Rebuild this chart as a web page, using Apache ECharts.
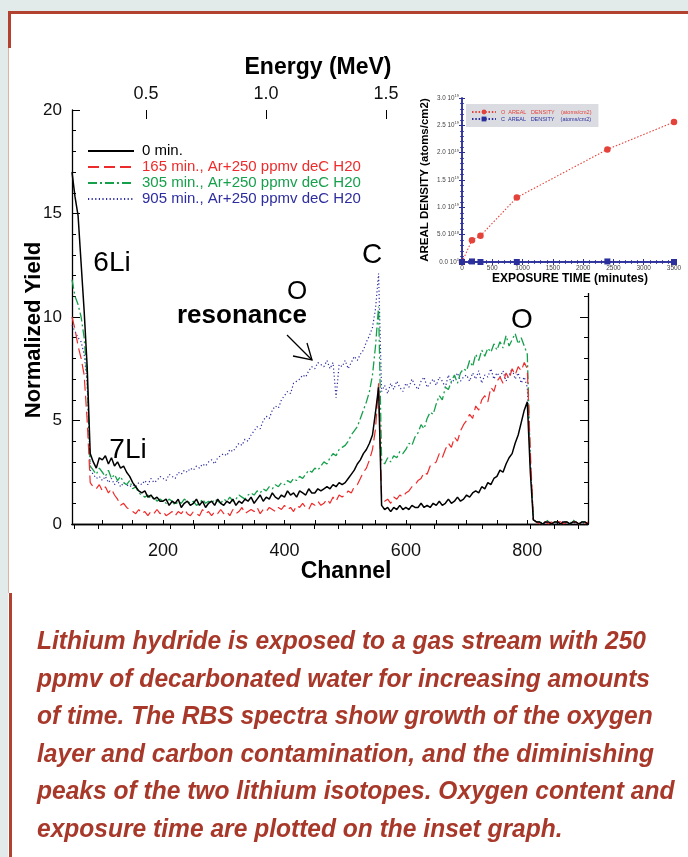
<!DOCTYPE html>
<html>
<head>
<meta charset="utf-8">
<script src="https://cdn.jsdelivr.net/npm/echarts@6.0.0/dist/echarts.min.js"></script>
<style>
  html, body { margin: 0; padding: 0; background: #e2ebe9; }
  #chart { width: 688px; height: 857px; }
</style>
</head>
<body>
<div id="chart"></div>
<script>
// RBS spectra: normalized yield per channel, one value every 5 channels from channel 50
const channelStart = 50;
const channelStep = 5;

const yield0 = [
  17.0, 15.8, 14.9, 12.6, 10.3, 7.6, 3.4, 3.0, 2.7, 3.2,
  3.1, 3.3, 2.9, 3.2, 2.8, 3.0, 2.7, 2.8, 2.5, 2.3,
  2.0, 1.8, 1.6, 1.5, 1.6, 1.3, 1.4, 1.2, 1.3, 1.1,
  1.1, 1.2, 0.9, 1.1, 1.0, 1.2, 0.8, 1.0, 1.1, 0.9,
  1.0, 1.2, 0.9, 1.1, 0.8, 1.0, 1.1, 0.9, 1.2, 1.0,
  0.9, 1.1, 1.0, 1.2, 0.9, 1.1, 1.0, 1.2, 1.1, 1.3,
  1.0, 1.2, 1.4, 1.1, 1.3, 1.2, 1.5, 1.3, 1.2, 1.4,
  1.3, 1.6, 1.4, 1.5, 1.3, 1.6, 1.5, 1.4, 1.7, 1.5,
  1.5, 1.7, 1.6, 1.7, 1.8, 1.7, 1.9, 1.8, 2.0, 1.9,
  2.0, 2.2, 2.4, 2.6, 2.9, 3.1, 3.4, 3.6, 3.9, 4.3,
  5.4, 6.6, 0.9, 0.7, 0.8, 0.6, 0.8, 0.7, 0.9, 0.7,
  0.8, 0.7, 0.9, 0.8, 0.8, 1.0, 0.8, 0.9, 0.8, 1.0,
  0.9, 1.1, 0.9, 1.0, 1.2, 1.0, 1.1, 1.3, 1.1, 1.2,
  1.4, 1.3, 1.5, 1.6, 1.5, 1.8, 1.7, 2.0, 1.9, 2.2,
  2.3, 2.6, 2.5, 2.9, 3.2, 3.4, 3.9, 4.3, 4.9, 5.5,
  5.9, 2.5, 0.2, 0.1, 0.1, 0.0, 0.1, 0.1, 0.0, 0.1,
  0.1, 0.0, 0.1, 0.1, 0.0, 0.1, 0.1, 0.0, 0.1, 0.1, 0.0
];

const yield165 = [
  10.0, 9.4, 8.6, 8.0, 7.2, 5.0, 2.0, 1.8, 1.7, 1.9,
  1.6, 1.8, 1.5, 1.7, 1.4, 1.2, 0.9, 1.0, 0.8, 0.7,
  0.6, 0.5, 0.7, 0.5, 0.6, 0.4, 0.6, 0.5, 0.7, 0.5,
  0.6, 0.4, 0.5, 0.6, 0.4, 0.6, 0.5, 0.7, 0.5, 0.4,
  0.6, 0.5, 0.4, 0.7, 0.5, 0.6, 0.4, 0.6, 0.5, 0.7,
  0.5, 0.6, 0.4, 0.7, 0.5, 0.6, 0.8, 0.5, 0.6, 0.7,
  0.6, 0.8, 0.5, 0.7, 0.6, 0.8, 0.7, 0.6, 0.8, 0.7,
  0.9, 0.7, 0.8, 0.6, 0.9, 0.8, 1.0, 0.8, 0.7, 1.0,
  0.9, 1.1, 0.9, 1.0, 1.2, 1.0, 1.3, 1.1, 1.4, 1.3,
  1.4, 1.6, 1.5, 1.8, 1.9, 2.2, 2.5, 2.7, 3.1, 3.6,
  4.6, 6.8, 1.3, 1.1, 1.2, 1.0, 1.3, 1.2, 1.4, 1.3,
  1.5, 1.6, 1.8, 1.9, 2.1, 2.2, 2.5, 2.4, 2.8, 2.9,
  3.0, 3.4, 3.2, 3.6, 3.9, 3.7, 4.2, 4.0, 4.5, 4.8,
  5.0, 5.3, 5.1, 5.7, 5.5, 6.0, 6.2, 5.9, 6.6, 6.4,
  6.9, 7.1, 6.8, 7.3, 7.0, 7.5, 7.2, 7.6, 7.4, 7.8,
  7.5, 3.5, 0.2, 0.1, 0.0, 0.1, 0.1, 0.0, 0.1, 0.0,
  0.1, 0.1, 0.0, 0.1, 0.0, 0.1, 0.1, 0.0, 0.1, 0.0, 0.1
];

const yield305 = [
  11.8, 11.0, 10.6, 10.0, 9.0, 7.0, 2.8, 2.6, 2.4, 2.7,
  2.5, 2.3, 2.6, 2.2, 2.4, 2.1, 2.3, 2.0, 1.9, 2.1,
  1.7, 1.8, 1.5, 1.4, 1.3, 1.4, 1.2, 1.3, 1.1, 1.2,
  1.1, 1.0, 1.2, 1.1, 0.9, 1.1, 1.0, 1.2, 1.1, 1.0,
  1.1, 0.9, 1.0, 1.2, 1.0, 1.1, 1.0, 1.2, 1.1, 1.0,
  1.2, 1.1, 1.3, 1.1, 1.2, 1.4, 1.3, 1.2, 1.4, 1.5,
  1.4, 1.6, 1.5, 1.7, 1.6, 1.8, 1.7, 1.9, 1.8, 2.0,
  1.9, 2.1, 2.0, 2.2, 2.1, 2.3, 2.2, 2.4, 2.6, 2.5,
  2.7, 2.6, 2.8, 3.0, 2.9, 3.2, 3.4, 3.3, 3.6, 3.7,
  3.8, 4.0, 4.3, 4.5, 4.7, 5.1, 5.5, 5.9, 6.4, 7.2,
  8.6, 10.5, 3.1, 2.9, 3.2, 3.0, 3.3, 3.2, 3.5, 3.4,
  3.6, 3.9, 3.8, 4.2, 4.4, 4.8, 4.6, 5.1, 5.4, 5.3,
  5.8, 6.2, 6.0, 6.6, 6.5, 6.9, 7.2, 6.8, 7.3, 7.5,
  7.4, 7.9, 7.6, 8.2, 7.9, 8.4, 8.1, 8.5, 8.3, 8.7,
  8.4, 8.8, 8.5, 9.1, 8.6, 8.9, 9.2, 8.7, 9.0, 8.6,
  8.2, 3.0, 0.2, 0.1, 0.1, 0.0, 0.1, 0.2, 0.0, 0.1,
  0.1, 0.0, 0.1, 0.1, 0.0, 0.2, 0.1, 0.0, 0.1, 0.1, 0.0
];

const yield905 = [
  9.6, 9.3, 9.0, 8.8, 8.2, 6.8, 2.6, 2.4, 2.2, 2.3,
  2.1, 2.3, 2.0, 2.2, 1.9, 2.1, 1.8, 2.0, 1.9, 1.8,
  1.9, 1.8, 2.0, 1.9, 2.1, 1.9, 2.2, 2.0, 2.1, 2.3,
  2.2, 2.1, 2.4, 2.3, 2.2, 2.5, 2.4, 2.6, 2.5, 2.7,
  2.6, 2.8, 2.7, 2.9, 2.8, 3.0, 3.1, 2.9, 3.2, 3.3,
  3.4, 3.3, 3.6, 3.5, 3.7, 3.9, 3.8, 4.1, 4.0, 4.3,
  4.5, 4.7, 4.6, 5.0, 5.2, 5.1, 5.5, 5.7, 5.6, 6.0,
  6.2, 6.4, 6.3, 6.8, 6.9, 7.0, 7.2, 7.1, 7.4, 7.6,
  7.5, 7.8, 7.7, 7.6, 7.9, 7.5, 7.8, 6.1, 7.7, 7.6,
  7.9, 7.5, 7.8, 8.1, 7.9, 8.2, 8.4, 8.8, 9.1, 9.5,
  10.4, 12.1, 6.4, 6.7, 6.3, 6.8, 6.5, 6.9, 6.6, 6.4,
  6.8, 6.6, 7.0, 6.7, 6.5, 6.9, 7.1, 6.6, 6.8, 7.0,
  6.7, 7.1, 6.9, 6.6, 7.2, 6.8, 7.0, 7.3, 6.9, 7.1,
  7.2, 6.9, 7.3, 7.0, 7.4, 6.8, 7.2, 7.1, 7.5, 7.0,
  7.3, 7.1, 7.4, 6.9, 7.2, 7.5, 7.0, 7.3, 6.8, 7.1,
  6.6, 3.0, 0.2, 0.1, 0.0, 0.1, 0.0, 0.1, 0.0, 0.1,
  0.0, 0.1, 0.1, 0.0, 0.1, 0.0, 0.1, 0.0, 0.1, 0.0, 0.1
];

const spectrumNames = [
  '0 min.',
  '165 min., Ar+250 ppmv deC H20',
  '305 min., Ar+250 ppmv deC H20',
  '905 min., Ar+250 ppmv deC H20'
];
const spectrumColors = ['#000000', '#ee2b2b', '#16a04c', '#2d2d9f'];

// Energy scale on the top axis (MeV), matching channel 50 .. 900
const energyRange = [0.192, 2.341];
const energyMinorTicks = [0.2, 0.3, 0.4, 0.5, 0.6, 0.7, 0.8, 0.9, 1.0, 1.1, 1.2, 1.3, 1.4, 1.5,
  1.6, 1.7, 1.8, 1.9, 2.0, 2.1, 2.2, 2.3];
const energyMajorTicks = [0.5, 1.0, 1.5, 2.0];
const energyLabels = [0.5, 1.0, 1.5];

// Inset: areal density versus exposure time
const exposureMinutes = [0, 165, 305, 905, 2400, 3500];
const oxygenDensity = [0, 0.40e19, 0.48e19, 1.18e19, 2.06e19, 2.56e19];
const carbonDensity = [0, 0.01e19, 0, 0, 0.01e19, 0];
const insetNames = ['O  AREAL   DENSITY    (atoms/cm2)', 'C  AREAL   DENSITY    (atoms/cm2)'];
const insetColors = ['#e4433b', '#2b2f9c'];

const FONT = "'Liberation Sans', Arial, sans-serif";

function toPoints(values) {
  return values.map((v, i) => [channelStart + i * channelStep, v]);
}
function pairs(xs, ys) {
  return xs.map((x, i) => [x, ys[i]]);
}
function sciLabel(v) {
  if (v === 0) return '{m|0.0 10}{e|0}';
  const e = Math.floor(Math.log10(v) + 1e-9);
  const m = v / Math.pow(10, e);
  return '{m|' + m.toFixed(1) + ' 10}{e|' + e + '}';
}
function txt(text, x, y, size, opts) {
  opts = opts || {};
  return {
    type: 'text', x: x, y: y, z: 10, zlevel: 0,
    rotation: opts.rotation || 0,
    scaleX: opts.scaleX || 1,
    style: {
      text: text, x: 0, y: 0,
      fill: opts.color || '#000',
      fontSize: size, fontFamily: opts.family || FONT,
      fontWeight: opts.weight || 'normal',
      fontStyle: opts.style || 'normal',
      align: opts.align || 'center', textAlign: opts.align || 'center',
      verticalAlign: opts.valign || 'middle', textVerticalAlign: opts.valign || 'middle',
      lineHeight: opts.lineHeight
    }
  };
}

const chart = echarts.init(document.getElementById('chart'), null, { renderer: 'canvas' });

const mainTick = { show: true, inside: true, length: 8, lineStyle: { color: '#000', width: 1 } };
const insetLine = { show: true, lineStyle: { color: '#2b2f9c', width: 1.5 } };
const insetTick = { show: true, inside: true, length: 3, lineStyle: { color: '#2b2f9c', width: 1 } };
const insetMinor = { show: true, splitNumber: 5, length: 2, lineStyle: { color: '#2b2f9c', width: 0.8 } };

const caption = [
  'Lithium hydride is exposed to a gas stream with 250',
  'ppmv of decarbonated water for increasing amounts',
  'of time. The RBS spectra show growth of the oxygen',
  'layer and carbon contamination, and the diminishing',
  'peaks of the two lithium isotopes. Oxygen content and',
  'exposure time are plotted on the inset graph.'
].join('\n');

const option = {
  animation: false,
  backgroundColor: '#e2ebe9',
  grid: [
    { left: 72, top: 110, width: 516, height: 414, show: false },
    { left: 462, top: 98, width: 212, height: 164, show: false }
  ],
  xAxis: [
    { // channel
      type: 'value', gridIndex: 0, position: 'bottom', min: 50, max: 900, interval: 50,
      axisLine: { show: true, lineStyle: { color: '#000', width: 1.3 } },
      axisTick: { show: true, inside: true, length: 4, lineStyle: { color: '#000' } },
      axisLabel: {
        margin: 18, fontSize: 18, fontFamily: FONT, color: '#111',
        formatter: v => (v % 200 === 0 ? String(v) : '')
      },
      splitLine: { show: false }
    },
    { // energy, minor ticks and labels
      type: 'value', gridIndex: 0, position: 'top', min: energyRange[0], max: energyRange[1],
      axisLine: { show: true, lineStyle: { color: '#000', width: 1.3 } },
      axisTick: { show: true, inside: true, length: 5, customValues: energyMinorTicks, lineStyle: { color: '#000' } },
      axisLabel: {
        show: true, margin: 7, fontSize: 18, fontFamily: FONT, color: '#111',
        customValues: energyLabels, formatter: v => v.toFixed(1)
      },
      splitLine: { show: false }
    },
    { // energy, major ticks
      type: 'value', gridIndex: 0, position: 'top', min: energyRange[0], max: energyRange[1],
      axisLine: { show: false },
      axisTick: { show: true, inside: true, length: 9, customValues: energyMajorTicks, lineStyle: { color: '#000' } },
      axisLabel: { show: false },
      splitLine: { show: false }
    },
    { // inset exposure time
      type: 'value', gridIndex: 1, position: 'bottom', min: 0, max: 3500, interval: 500, z: 6,
      axisLine: insetLine, axisTick: insetTick, minorTick: insetMinor,
      axisLabel: { margin: 3, fontSize: 6.5, fontFamily: FONT, color: '#444', formatter: v => String(v) },
      splitLine: { show: false }
    },
    {
      type: 'value', gridIndex: 1, position: 'top', min: 0, max: 3500, interval: 500, z: 6,
      axisLine: insetLine, axisTick: insetTick, minorTick: insetMinor,
      axisLabel: { show: false }, splitLine: { show: false }
    }
  ],
  yAxis: [
    {
      type: 'value', gridIndex: 0, position: 'left', min: 0, max: 20, interval: 5,
      axisLine: { show: true, lineStyle: { color: '#000', width: 1.3 } },
      axisTick: mainTick,
      minorTick: { show: true, splitNumber: 5, length: 4, lineStyle: { color: '#000' } },
      axisLabel: { margin: 10, fontSize: 17, fontFamily: FONT, color: '#111' },
      splitLine: { show: false }
    },
    {
      type: 'value', gridIndex: 0, position: 'right', min: 0, max: 20, interval: 5,
      axisLine: { show: true, lineStyle: { color: '#000', width: 1.3 } },
      axisTick: mainTick,
      minorTick: { show: true, splitNumber: 5, length: 4, lineStyle: { color: '#000' } },
      axisLabel: { show: false },
      splitLine: { show: false }
    },
    {
      type: 'value', gridIndex: 1, position: 'left', min: 0, max: 3e19, interval: 5e18, z: 6,
      axisLine: insetLine, axisTick: insetTick, minorTick: insetMinor,
      axisLabel: {
        margin: 3, fontFamily: FONT, color: '#444', formatter: sciLabel,
        rich: {
          m: { fontSize: 6.3, fontFamily: FONT, color: '#444' },
          e: { fontSize: 4, fontFamily: FONT, color: '#444', padding: [0, 0, 4, 0] }
        }
      },
      splitLine: { show: false }
    },
    {
      type: 'value', gridIndex: 1, position: 'right', min: 0, max: 3e19, interval: 5e18, z: 6,
      axisLine: insetLine, axisTick: insetTick, minorTick: insetMinor,
      axisLabel: { show: false }, splitLine: { show: false }
    }
  ],
  legend: [
    {
      orient: 'vertical', left: 87, top: 143.5, padding: 0, itemGap: 1,
      itemWidth: 46, itemHeight: 12, selectedMode: false,
      itemStyle: { opacity: 0 },
      textStyle: { fontSize: 15, fontFamily: FONT, padding: [0, 0, 0, 3] },
      data: spectrumNames.map((n, i) => ({ name: n, textStyle: { color: spectrumColors[i] } }))
    },
    {
      orient: 'vertical', left: 466, top: 104, padding: [5, 7, 5, 5], itemGap: 1,
      itemWidth: 24, itemHeight: 6, selectedMode: false, z: 8,
      backgroundColor: '#dadce2',
      textStyle: { fontSize: 5.5, fontFamily: FONT },
      data: insetNames.map((n, i) => ({ name: n, textStyle: { color: insetColors[i] } }))
    }
  ],
  series: [
    {
      name: spectrumNames[3], type: 'line', xAxisIndex: 0, yAxisIndex: 0, data: toPoints(yield905),
      symbol: 'none', color: spectrumColors[3], itemStyle: { opacity: 0 },
      lineStyle: { color: spectrumColors[3], width: 1.2, type: [1.2, 2.4] }
    },
    {
      name: spectrumNames[2], type: 'line', xAxisIndex: 0, yAxisIndex: 0, data: toPoints(yield305),
      symbol: 'none', color: spectrumColors[2], itemStyle: { opacity: 0 },
      lineStyle: { color: spectrumColors[2], width: 1.3, type: [9, 3, 2, 3] }
    },
    {
      name: spectrumNames[1], type: 'line', xAxisIndex: 0, yAxisIndex: 0, data: toPoints(yield165),
      symbol: 'none', color: spectrumColors[1], itemStyle: { opacity: 0 },
      lineStyle: { color: spectrumColors[1], width: 1.2, type: [11, 5] }
    },
    {
      name: spectrumNames[0], type: 'line', xAxisIndex: 0, yAxisIndex: 0, data: toPoints(yield0),
      symbol: 'none', color: spectrumColors[0], itemStyle: { opacity: 0 },
      lineStyle: { color: spectrumColors[0], width: 1.5 }
    },
    {
      name: insetNames[0], type: 'line', xAxisIndex: 3, yAxisIndex: 2, z: 7,
      data: pairs(exposureMinutes, oxygenDensity),
      symbol: 'circle', symbolSize: 6.5, showSymbol: true, color: insetColors[0],
      itemStyle: { color: insetColors[0] },
      lineStyle: { color: insetColors[0], width: 1.1, type: [1.5, 1.8] }
    },
    {
      name: insetNames[1], type: 'line', xAxisIndex: 3, yAxisIndex: 2, z: 7,
      data: pairs(exposureMinutes, carbonDensity),
      symbol: 'rect', symbolSize: 6, showSymbol: true, color: insetColors[1],
      itemStyle: { color: insetColors[1] },
      lineStyle: { color: insetColors[1], width: 1.1, type: [1.5, 1.8] }
    }
  ],
  graphic: {
    elements: [
      // page panel and red frame
      { type: 'rect', z: -2, shape: { x: 8, y: 12, width: 680, height: 845 }, style: { fill: '#ffffff' } },
      { type: 'rect', z: -1, shape: { x: 8, y: 11, width: 680, height: 3 }, style: { fill: '#b3412f' } },
      { type: 'rect', z: -1, shape: { x: 8, y: 11, width: 3, height: 37 }, style: { fill: '#b3412f' } },
      { type: 'rect', z: -1, shape: { x: 8, y: 48, width: 1, height: 545 }, style: { fill: '#dcb2aa' } },
      { type: 'rect', z: -1, shape: { x: 9, y: 593, width: 3, height: 264 }, style: { fill: '#b3412f' } },
      // white backdrop of the inset graph
      { type: 'rect', z: 5, shape: { x: 411, y: 80, width: 277, height: 213 }, style: { fill: '#ffffff' } },
      // axis titles
      txt('Energy (MeV)', 318, 68, 23, { weight: 'bold' }),
      txt('Channel', 346, 572, 23, { weight: 'bold' }),
      txt('Normalized Yield', 34, 330, 22, { weight: 'bold', rotation: Math.PI / 2 }),
      txt('AREAL DENSITY (atoms/cm2)', 425, 180, 11.5, { weight: 'bold', rotation: Math.PI / 2 }),
      txt('EXPOSURE TIME (minutes)', 570, 279, 12, { weight: 'bold' }),
      // peak annotations
      txt('6Li', 112, 263, 28),
      txt('7Li', 128, 450, 28),
      txt('C', 372, 255, 28),
      txt('O', 297, 292, 26),
      txt('resonance', 242, 316, 26, { weight: 'bold' }),
      txt('O', 522, 320, 28),
      {
        type: 'polyline', z: 10,
        shape: { points: [[287, 335], [312, 360]] },
        style: { stroke: '#000', lineWidth: 1.3, fill: null }
      },
      {
        type: 'polyline', z: 10,
        shape: { points: [[293, 356], [312, 360], [307, 343]] },
        style: { stroke: '#000', lineWidth: 1.3, fill: null }
      },
      // caption
      txt(caption, 37, 623, 26, {
        weight: 'bold', style: 'italic', color: '#a8392a', scaleX: 0.945,
        align: 'left', valign: 'top', lineHeight: 37.6
      })
    ]
  }
};

chart.setOption(option);
</script>
</body>
</html>
